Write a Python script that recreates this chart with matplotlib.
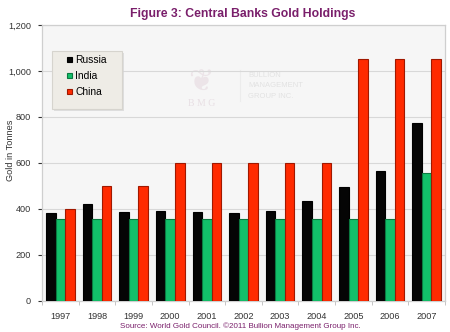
import numpy as np
import matplotlib.pyplot as plt
from matplotlib.patches import Rectangle
from matplotlib.ticker import FuncFormatter

plt.rcParams["font.family"] = ["Liberation Sans", "DejaVu Sans"]

years = ["1997", "1998", "1999", "2000", "2001", "2002",
         "2003", "2004", "2005", "2006", "2007"]
russia = [384, 421, 388, 390, 388, 384, 393, 436, 494, 565, 774]
india = [358, 358, 358, 358, 358, 358, 358, 358, 358, 358, 558]
china = [400, 500, 500, 600, 600, 600, 600, 600, 1054, 1054, 1054]

series = [("Russia", russia, "#050505", "#000000"),
          ("India", india, "#12c06a", "#0a7a40"),
          ("China", china, "#ff2a00", "#a01800")]

purple = "#7a1f6b"
W, H = 450, 332

fig = plt.figure(figsize=(W / 100, H / 100), dpi=100)
fig.patch.set_facecolor("white")
ax = fig.add_axes([0.0933, 0.0934, 0.8956, 0.8313])
ax.set_facecolor("#f6f6f6")

x = np.arange(len(years))
w = 0.26
for i, (name, vals, col, edge) in enumerate(series):
    ax.bar(x + (i - 1) * w, vals, w, color=col, edgecolor=edge,
           linewidth=0.8, label=name, zorder=3)

ax.set_xlim(-0.5, len(years) - 0.5)
ax.set_ylim(0, 1200)
ax.set_yticks(range(0, 1201, 200))
ax.yaxis.set_major_formatter(FuncFormatter(lambda v, p: f"{int(v):,}"))
ax.set_xticks(x)
ax.set_xticklabels(years)
ax.set_xticks(np.arange(-0.5, len(years), 1), minor=True)
ax.tick_params(axis="x", which="major", length=0, pad=8)
ax.tick_params(axis="x", which="minor", length=3, color="#bbbbbb")
ax.tick_params(axis="y", length=3, color="#bbbbbb", pad=5)
ax.tick_params(labelsize=6.6, colors="#333333")
ax.grid(axis="y", color="#d8d8d8", linewidth=0.8, zorder=0)
for s in ax.spines.values():
    s.set_color("#cfcfcf")
    s.set_linewidth(0.9)

ax.set_ylabel("Gold in Tonnes", fontsize=6.6, color="#333333", va="center")
ax.yaxis.set_label_coords(-0.079, 0.547)

# faint company watermark behind the bars
ax.text(3.85, 950, "\u2766", fontsize=22, color="#ece4e8", ha="center",
        va="center", zorder=1)
ax.text(3.85, 858, "B M G", fontsize=7, color="#e8dfe4", ha="center",
        va="center", family="Liberation Serif", zorder=1)
ax.plot([4.9, 4.9], [870, 1005], color="#ececec", lw=0.8, zorder=1)
ax.text(5.13, 935, "BULLION\nMANAGEMENT\nGROUP INC.", fontsize=5.5,
        color="#e2e2e2", ha="left", va="center", linespacing=1.7, zorder=1)

# legend box with a soft drop shadow, entries laid over it
bx, by, bw, bh = 52, 51, 70, 58
ax.add_patch(Rectangle(((bx + 2) / W, 1 - (by + bh + 2) / H), bw / W, bh / H,
                       transform=fig.transFigure, facecolor="#d4d4d4",
                       edgecolor="none", alpha=0.7, zorder=4, clip_on=False))
ax.add_patch(Rectangle((bx / W, 1 - (by + bh) / H), bw / W, bh / H,
                       transform=fig.transFigure, facecolor="#eeece6",
                       edgecolor="#d6d4ce", linewidth=0.8, zorder=4,
                       clip_on=False))
leg = ax.legend(loc="upper left", bbox_to_anchor=(67 / W, 1 - 55 / H),
                bbox_transform=fig.transFigure, fontsize=7.4, frameon=False,
                handlelength=0.45, handleheight=0.45, handletextpad=0.35,
                labelspacing=0.6, borderpad=0, borderaxespad=0)
leg.set_zorder(5)

fig.text(0.54, 0.957, "Figure 3: Central Banks Gold Holdings", ha="center",
         va="center", fontsize=8.8, fontweight="bold", color=purple)
fig.text(0.535, 0.019, "Source: World Gold Council. \u00a92011 Bullion Management Group Inc.",
         ha="center", va="center", fontsize=5.8, color=purple)

fig.savefig("out.png", dpi=100)
